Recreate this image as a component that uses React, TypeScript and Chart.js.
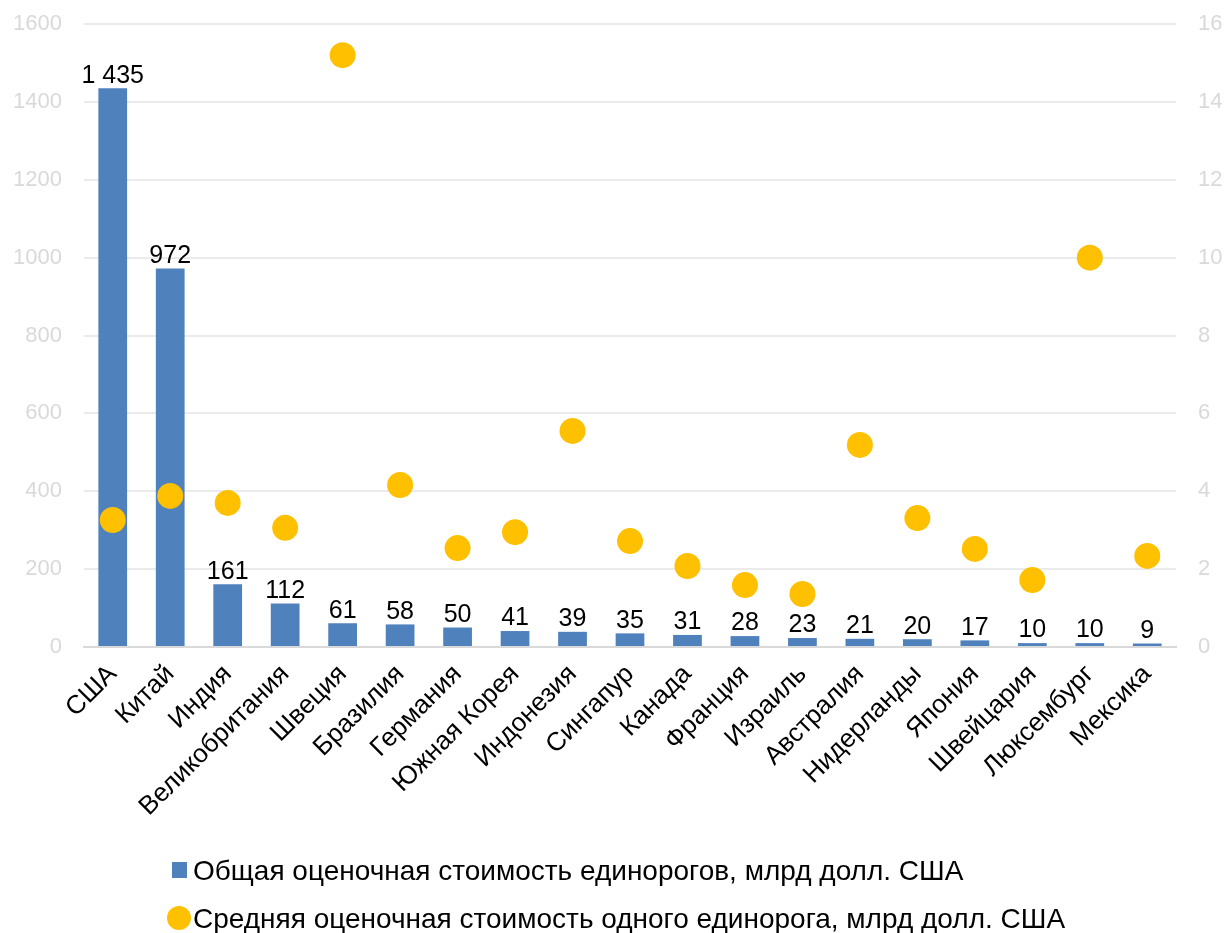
import React, { useEffect, useRef } from "react";
import { Chart, registerables } from "chart.js";

Chart.register(...registerables);

const countries = [
  "США", "Китай", "Индия", "Великобритания", "Швеция", "Бразилия", "Германия",
  "Южная Корея", "Индонезия", "Сингапур", "Канада", "Франция", "Израиль",
  "Австралия", "Нидерланды", "Япония", "Швейцария", "Люксембург", "Мексика",
];
const totalValues = [1435, 972, 161, 112, 61, 58, 50, 41, 39, 35, 31, 28, 23, 21, 20, 17, 10, 10, 9];
const avgValues = [3.26, 3.88, 3.7, 3.06, 15.2, 4.16, 2.54, 2.95, 5.55, 2.72, 2.08, 1.59, 1.36, 5.19, 3.31, 2.52, 1.72, 10.0, 2.34];
const totalLabel = "Общая оценочная стоимость единорогов, млрд долл. США";
const avgLabel = "Средняя оценочная стоимость одного единорога, млрд долл. США";

const BAR = "#4F81BD";
const DOT = "#FFC000";
const FONT = "'Liberation Sans', Arial, sans-serif";

function fmt(v: number): string {
  return String(v).replace(/\B(?=(\d{3})+(?!\d))/g, " ");
}

const barLabels = {
  id: "barLabels",
  afterDatasetsDraw(chart: any) {
    const meta = chart.getDatasetMeta(0);
    const ctx = chart.ctx;
    ctx.save();
    ctx.font = `25px ${FONT}`;
    ctx.fillStyle = "#000";
    ctx.textAlign = "center";
    ctx.textBaseline = "bottom";
    meta.data.forEach((el: any, i: number) => {
      ctx.fillText(fmt(totalValues[i]), el.x, el.y);
    });
    ctx.restore();
  },
};

export default function App() {
  const ref = useRef<HTMLCanvasElement>(null);
  useEffect(() => {
    if (!ref.current) return;
    const chart = new Chart(ref.current, {
      type: "bar",
      data: {
        labels: countries,
        datasets: [
          {
            type: "bar",
            label: totalLabel,
            data: totalValues,
            backgroundColor: BAR,
            yAxisID: "y",
            order: 2,
            categoryPercentage: 1,
            barPercentage: 0.5,
          },
          {
            type: "line",
            label: avgLabel,
            data: avgValues,
            showLine: false,
            pointRadius: 13,
            pointHoverRadius: 13,
            pointBackgroundColor: DOT,
            pointBorderColor: DOT,
            pointBorderWidth: 0,
            yAxisID: "y1",
            order: 1,
            clip: false,
          } as any,
        ],
      },
      options: {
        animation: false,
        responsive: false,
        maintainAspectRatio: false,
        layout: { autoPadding: false, padding: { top: 0, left: 0, right: 0, bottom: 0 } },
        plugins: {
          legend: { display: false },
          tooltip: { enabled: false },
        },
        scales: {
          x: {
            grid: { display: false, drawTicks: false },
            border: { display: true, color: "#D9D9D9", width: 2 },
            ticks: {
              color: "#000",
              font: { family: FONT, size: 26 },
              maxRotation: 45,
              minRotation: 45,
              autoSkip: false,
              padding: 12,
            },
            afterFit(scale: any) {
              scale.height = 286;
            },
          },
          y: {
            position: "left",
            min: 0,
            max: 1600,
            grid: { color: "#EBEBEB", lineWidth: 2, drawTicks: false },
            border: { display: false },
            ticks: {
              stepSize: 200,
              color: "#D9D9D9",
              font: { family: FONT, size: 22 },
              padding: 22,
              callback: (v: any) => String(v),
            },
            afterFit(scale: any) {
              scale.width = 84;
              scale.paddingTop = 24;
              scale.paddingBottom = 0;
            },
          },
          y1: {
            position: "right",
            min: 0,
            max: 16,
            grid: { display: false, drawTicks: false },
            border: { display: false },
            ticks: {
              stepSize: 2,
              color: "#D9D9D9",
              font: { family: FONT, size: 22 },
              padding: 22,
              callback: (v: any) => String(v),
            },
            afterFit(scale: any) {
              scale.width = 49;
              scale.paddingTop = 24;
              scale.paddingBottom = 0;
            },
          },
        },
      } as any,
      plugins: [barLabels],
    });
    return () => chart.destroy();
  }, []);

  const textStyle: React.CSSProperties = {
    position: "absolute",
    left: 193,
    fontFamily: FONT,
    fontSize: 28,
    color: "#000",
    whiteSpace: "nowrap",
    lineHeight: "32px",
  };

  return (
    <div style={{ position: "absolute", left: 0, top: 0, width: 1225, height: 933, background: "#fff" }}>
      <canvas ref={ref} width={1225} height={933} style={{ position: "absolute", left: 0, top: 0 }} />
      <div style={{ position: "absolute", left: 172, top: 862, width: 15, height: 16, background: BAR }} />
      <div style={{ ...textStyle, top: 855 }}>{totalLabel}</div>
      <div style={{ position: "absolute", left: 167, top: 906, width: 24, height: 24, borderRadius: "50%", background: DOT }} />
      <div style={{ ...textStyle, top: 903 }}>{avgLabel}</div>
    </div>
  );
}
